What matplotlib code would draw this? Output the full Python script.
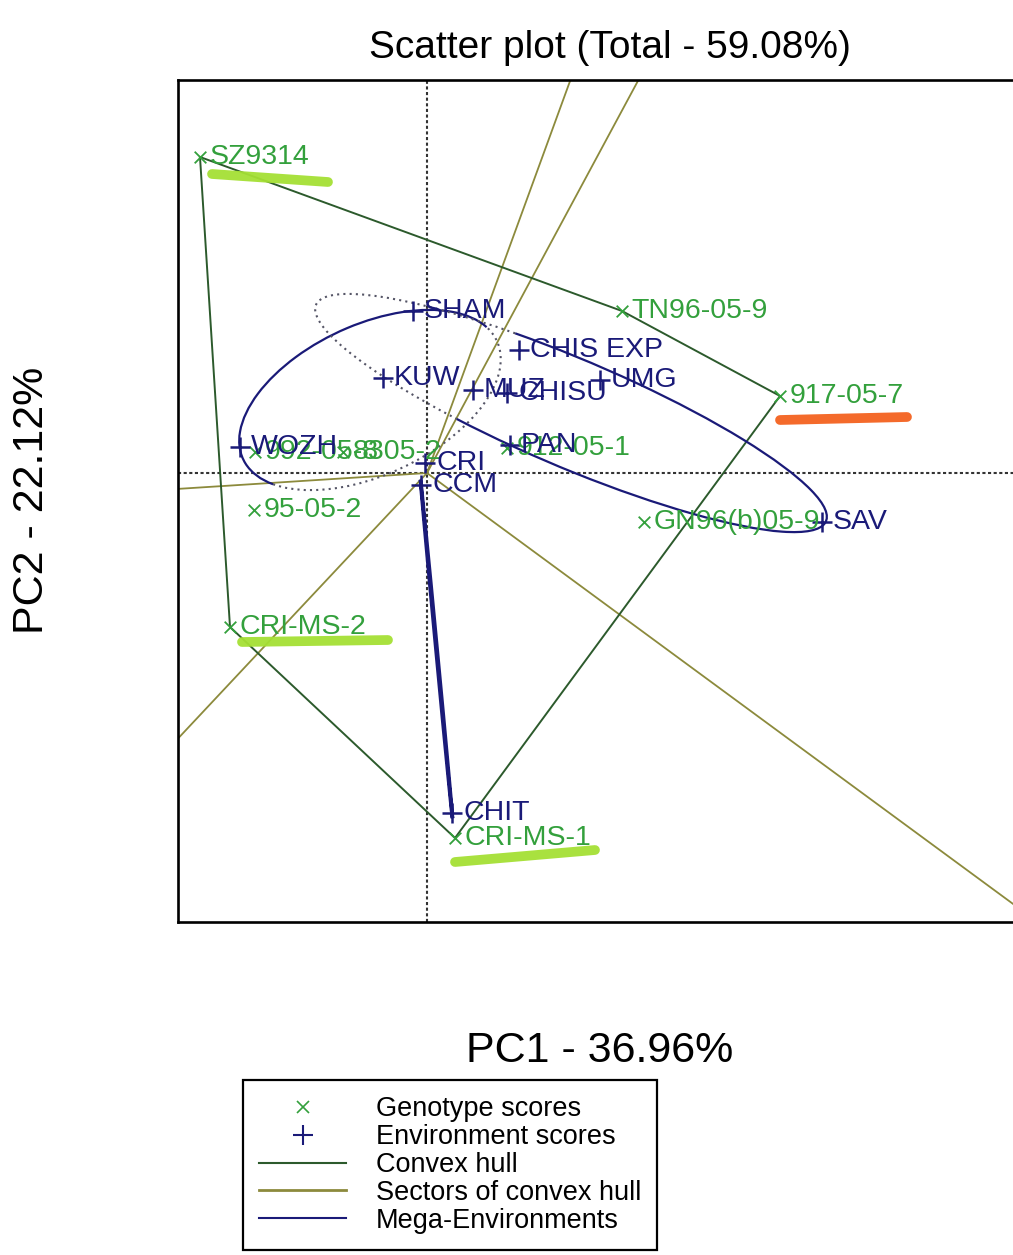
import matplotlib
matplotlib.use("Agg")
import matplotlib.pyplot as plt
from matplotlib.lines import Line2D
from matplotlib.patches import Arc, Ellipse
import numpy as np

plt.rcParams["font.family"] = ["Liberation Sans", "DejaVu Sans"]

# ---- data (PC1, PC2 scores) ---------------------------------------------
geno_names = ["SZ9314", "TN96-05-9", "917-05-7", "GN96(b)05-9", "95-05-2",
              "CRI-MS-2", "CRI-MS-1", "992-05-8", "8305-2", "912-05-1"]
geno_pc1 = [-2.27, 1.95, 3.53, 2.17, -1.73, -1.97, 0.28, -1.72, -0.84, 0.80]
geno_pc2 = [3.16, 1.62, 0.77, -0.49, -0.37, -1.54, -3.65, 0.21, 0.21, 0.25]

env_names = ["SHAM", "CHIS EXP", "KUW", "MUZ", "CHISU", "UMG", "WOZH",
             "PAN", "CRI", "CCM", "SAV", "CHIT"]
env_pc1 = [-0.14, 0.92, -0.44, 0.46, 0.80, 1.73, -1.87, 0.83, -0.02, -0.06,
           3.95, 0.25]
env_pc2 = [1.62, 1.23, 0.95, 0.83, 0.80, 0.93, 0.26, 0.28, 0.10, -0.12,
           -0.49, -3.40]

# convex hull vertices (genotypes, in order)
hull_order = ["SZ9314", "TN96-05-9", "917-05-7", "CRI-MS-1", "CRI-MS-2"]

# mega-environment ellipses: centre, width, height, angle, solid arc range
mega_cx = [-0.57, 1.44, 0.095]
mega_cy = [0.73, 0.60, -1.76]
mega_w = [2.8, 5.54, 3.40]
mega_h = [1.5, 1.08, 0.012]
mega_ang = [25, -23, -84.6]
mega_solid = [(7, 196), (-154, 148), (0, 360)]

# hand-drawn highlight strokes under some genotype labels
hl_names = ["SZ9314", "CRI-MS-2", "CRI-MS-1", "917-05-7"]
hl_colors = ["#a5e034", "#a5e034", "#a5e034", "#f4621f"]
hl_offsets = [(0.12, -0.17, 1.28, -0.25), (0.12, -0.15, 1.58, -0.13),
              (0.0, -0.24, 1.40, -0.12), (0.0, -0.24, 1.27, -0.21)]

GREEN = "#33a03c"
NAVY = "#1a1a78"
HULL = "#2c5a2c"
SECTOR = "#8c8a3c"

fig = plt.figure(figsize=(10.13, 12.55), dpi=100)
ax = fig.add_axes([178 / 1013, 333 / 1255, 842 / 1013, 842 / 1255])
ax.set_xlim(-2.49, 5.93)
ax.set_ylim(-4.49, 3.93)
ax.set_xticks([])
ax.set_yticks([])
for s in ax.spines.values():
    s.set_linewidth(1.9)

# origin lines
ax.axhline(0, color="#333333", lw=1.5, ls=(0, (1.5, 1.2)), zorder=1)
ax.axvline(0, color="#333333", lw=1.5, ls=(0, (1.5, 1.2)), zorder=1)

gx = dict(zip(geno_names, geno_pc1))
gy = dict(zip(geno_names, geno_pc2))
hx = np.array([gx[n] for n in hull_order])
hy = np.array([gy[n] for n in hull_order])

# sectors: rays from origin perpendicular to each hull side
for i in range(len(hx)):
    p = np.array([hx[i], hy[i]])
    q = np.array([hx[(i + 1) % len(hx)], hy[(i + 1) % len(hx)]])
    d = q - p
    t = -p.dot(d) / d.dot(d)
    foot = p + t * d
    u = foot / np.linalg.norm(foot)
    ax.plot([0, 20 * u[0]], [0, 20 * u[1]], color=SECTOR, lw=1.3, zorder=2)

# convex hull
ax.plot(np.append(hx, hx[0]), np.append(hy, hy[0]), color=HULL, lw=1.4,
        zorder=3)

# mega-environments
for cx, cy, w, h, a, (t1, t2) in zip(mega_cx, mega_cy, mega_w, mega_h,
                                     mega_ang, mega_solid):
    if t2 - t1 >= 360:
        ax.add_patch(Ellipse((cx, cy), w, h, angle=a, fill=False,
                             ec=NAVY, lw=2.6, zorder=4))
        continue
    ax.add_patch(Arc((cx, cy), w, h, angle=a, theta1=t1, theta2=t2,
                     ec=NAVY, lw=1.6, zorder=4))
    ax.add_patch(Arc((cx, cy), w, h, angle=a, theta1=t2, theta2=t1 + 360,
                     ec="#555566", lw=1.5, ls=(0, (1, 2)), zorder=4))

# scores
ax.scatter(geno_pc1, geno_pc2, marker="x", s=70, c=GREEN, lw=1.3, zorder=5)
ax.scatter(env_pc1, env_pc2, marker="+", s=200, c=NAVY, lw=1.8, zorder=5)
for n, x, y in zip(geno_names, geno_pc1, geno_pc2):
    ax.annotate(n, (x, y), xytext=(7, 0), textcoords="offset points",
                va="center", ha="left", fontsize=20.5, color=GREEN, zorder=6)
for n, x, y in zip(env_names, env_pc1, env_pc2):
    ax.annotate(n, (x, y), xytext=(8, 0), textcoords="offset points",
                va="center", ha="left", fontsize=20.5, color=NAVY, zorder=6)

# highlight strokes
for n, c, (x0, y0, x1, y1) in zip(hl_names, hl_colors, hl_offsets):
    ax.plot([gx[n] + x0, gx[n] + x1], [gy[n] + y0, gy[n] + y1], color=c,
            lw=7, solid_capstyle="round", alpha=0.95, zorder=7)

# titles
fig.text(610 / 1013, 1 - 58 / 1255, "Scatter plot (Total - 59.08%)",
         ha="center", va="baseline", fontsize=28)
fig.text(600 / 1013, 1 - 1062 / 1255, "PC1 - 36.96%", ha="center",
         va="baseline", fontsize=31)
fig.text(32 / 1013, 1 - 500 / 1255, "PC2 - 22.12%", ha="center",
         va="center", rotation=90, fontsize=31)

# legend
handles = [
    Line2D([], [], marker="x", color=GREEN, ls="none", ms=9, mew=1.2),
    Line2D([], [], marker="+", color=NAVY, ls="none", ms=14, mew=1.5),
    Line2D([], [], color=HULL, lw=1.5),
    Line2D([], [], color=SECTOR, lw=2.0),
    Line2D([], [], color=NAVY, lw=1.5),
]
labels = ["Genotype scores", "Environment scores", "Convex hull",
          "Sectors of convex hull", "Mega-Environments"]
leg = fig.legend(handles, labels, loc="upper left",
                 bbox_to_anchor=(243 / 1013, 1 - 1080 / 1255),
                 fontsize=19.5, frameon=True, fancybox=False, framealpha=1,
                 edgecolor="black", handlelength=3.2, handletextpad=1.1,
                 labelspacing=0.07, borderpad=0.6, borderaxespad=0)
leg.get_frame().set_linewidth(1.6)

fig.savefig("out.png", dpi=100)
